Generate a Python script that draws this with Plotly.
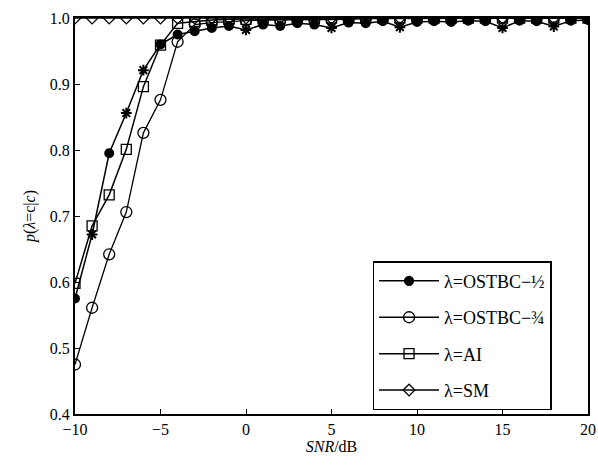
import plotly.graph_objects as go

snr = list(range(-10, 21))

p_ostbc12 = [0.575, 0.672, 0.795, 0.856, 0.921, 0.960, 0.975, 0.980, 0.985, 0.988,
             0.982, 0.990, 0.988, 0.992, 0.990, 0.985, 0.993, 0.992, 0.995, 0.986,
             0.994, 0.995, 0.994, 0.996, 0.995, 0.985, 0.996, 0.995, 0.987, 0.996, 0.997]
star_at = [-9, -7, -6, 0, 5, 9, 15, 18]

p_ostbc34 = [0.475, 0.561, 0.642, 0.706, 0.826, 0.876, 0.964, 0.990, 0.993, 0.995,
             0.996, 0.997, 0.997, 0.998, 0.998, 0.998, 0.998, 0.999, 0.999, 0.999,
             0.999, 0.999, 0.999, 0.999, 1.0, 1.0, 1.0, 1.0, 1.0, 1.0, 1.0]

p_ai = [0.598, 0.685, 0.732, 0.801, 0.896, 0.959, 0.992, 0.995, 0.997, 0.998,
        0.998, 0.999, 0.999, 0.999, 0.999, 1.0, 1.0, 1.0, 1.0, 1.0,
        1.0, 1.0, 1.0, 1.0, 1.0, 1.0, 1.0, 1.0, 1.0, 1.0, 1.0]

p_sm = [1.0] * len(snr)

names = ["λ=OSTBC−½", "λ=OSTBC−¾", "λ=AI", "λ=SM"]

FONT = "Liberation Serif, Times New Roman, serif"

fig = go.Figure()

sym1 = ["asterisk-open" if s in star_at else "circle" for s in snr]
size1 = [9 if s in star_at else 8 for s in snr]

fig.add_trace(go.Scatter(
    x=snr, y=p_sm, name=names[3], mode="lines+markers", legendgroup="d", legendrank=4,
    line=dict(color="black", width=1.5),
    marker=dict(symbol="diamond-open", size=9, color="black", opacity=1,
                line=dict(color="black", width=1.3))))
fig.add_trace(go.Scatter(
    x=snr, y=p_ai, name=names[2], mode="lines+markers", legendgroup="c", legendrank=3,
    line=dict(color="black", width=1.5),
    marker=dict(symbol="square-open", size=10, color="black", opacity=1,
                line=dict(color="black", width=1.3))))
fig.add_trace(go.Scatter(
    x=snr, y=p_ostbc34, name=names[1], mode="lines+markers", legendgroup="b", legendrank=2,
    line=dict(color="black", width=1.3),
    marker=dict(symbol="circle-open", size=11, color="black", opacity=1,
                line=dict(color="black", width=1.3))))
fig.add_trace(go.Scatter(
    x=snr, y=p_ostbc12, name=names[0], mode="lines+markers", legendgroup="a", legendrank=1,
    line=dict(color="black", width=1.5),
    marker=dict(symbol=sym1, size=size1, color="black", opacity=1,
                line=dict(color="black", width=2))))

fig.update_layout(
    width=598, height=466,
    margin=dict(l=75, r=10, t=18, b=52),
    paper_bgcolor="white", plot_bgcolor="white",
    font=dict(family=FONT, size=15, color="black"),
    showlegend=True,
    legend=dict(x=0.58, y=0.386, xanchor="left", yanchor="top",
                bordercolor="black", borderwidth=1.5, bgcolor="white",
                font=dict(family=FONT, size=18), tracegroupgap=10,
                itemwidth=60, traceorder="grouped"),
    xaxis=dict(range=[-10, 20], tickmode="array", tickvals=[-10, -5, 0, 5, 10, 15, 20],
               ticks="inside", ticklen=5, tickwidth=1, tickcolor="black",
               showline=True, linecolor="black", linewidth=2, mirror=True,
               showgrid=False, zeroline=False, automargin=False,
               tickfont=dict(size=16),
               title=dict(text="<i>SNR</i>/dB", standoff=4, font=dict(size=16))),
    yaxis=dict(range=[0.4, 1.0], tickmode="array",
               tickvals=[0.4, 0.5, 0.6, 0.7, 0.8, 0.9, 1.0],
               ticktext=["0.4", "0.5", "0.6", "0.7", "0.8", "0.9", "1.0"],
               ticks="inside", ticklen=5, tickwidth=1, tickcolor="black",
               showline=True, linecolor="black", linewidth=2, mirror=True,
               showgrid=False, zeroline=False, automargin=False,
               tickfont=dict(size=16),
               title=dict(text="<i>p</i>(<i>λ</i>=c|<i>c</i>)", standoff=10, font=dict(size=16))),
)

fig.write_html("out.html")
